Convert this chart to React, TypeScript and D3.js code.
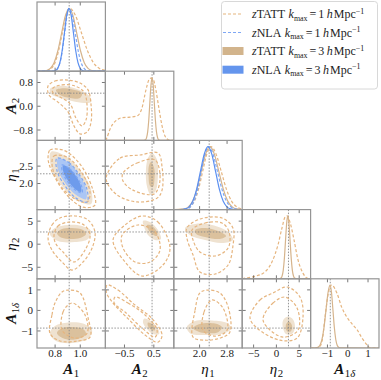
import React from 'react';
import * as d3 from 'd3';

type P = [number, number];

const WIDTH = 381;
const HEIGHT = 380;
const LEFT = 37;
const TOP = 2;
const CELL_W = 68.4;
const CELL_H = 69.2;
const N = 5;

const PARAMS = ['A1', 'A2', 'eta1', 'eta2', 'A1d'];
const RANGES: P[] = [[0.656, 1.2], [-1.15, 1.18], [1.25, 3.24], [-7.5, 7.5], [-1.83, 1.54]];
const TRUTH = [0.912, 0.44, 2.28, 2.65, -0.86];
const X_TICKS = [[0.8, 1.0], [-0.5, 0.5], [2.0, 2.8], [-5, 0, 5], [-1, 0, 1]];
const X_TICK_LABELS = [['0.8', '1.0'], ['−0.5', '0.5'], ['2.0', '2.8'], ['−5', '0', '5'], ['−1', '0', '1']];
const Y_TICKS = [[], [-0.8, 0, 0.8], [2.0, 2.5], [-5, 0, 5], [-1, 0, 1]];
const Y_TICK_LABELS = [[], ['−0.8', '0.0', '0.8'], ['2.0', '2.5'], ['−5', '0', '5'], ['−1', '0', '1']];
const DENSITY_MAX = 1.1;

// 1D marginals (x, normalised density)
const TATT3_1D: P[][] = [
  [[0.656,0],[0.70,0.002],[0.732,0.011],[0.762,0.044],[0.792,0.135],[0.822,0.325],[0.852,0.607],[0.882,0.882],[0.912,1],[0.942,0.882],[0.972,0.607],[1.002,0.325],[1.032,0.135],[1.062,0.044],[1.092,0.011],[1.13,0.001],[1.2,0]],
  [[-1.15,0],[0.10,0.001],[0.215,0.011],[0.2525,0.044],[0.29,0.135],[0.3275,0.325],[0.365,0.607],[0.4025,0.882],[0.44,1],[0.4775,0.882],[0.515,0.607],[0.5525,0.325],[0.59,0.135],[0.6275,0.044],[0.665,0.011],[0.75,0.001],[1.18,0]],
  [[1.25,0],[1.40,0.002],[1.55,0.011],[1.675,0.044],[1.8,0.135],[1.925,0.325],[2.05,0.607],[2.175,0.882],[2.3,1],[2.43,0.882],[2.56,0.607],[2.69,0.325],[2.82,0.135],[2.95,0.044],[3.08,0.011],[3.24,0.001]],
  [[-7.5,0],[0.5,0.001],[1.0,0.011],[1.25,0.044],[1.5,0.135],[1.75,0.325],[2.0,0.607],[2.25,0.882],[2.5,1],[2.75,0.882],[3.0,0.607],[3.25,0.325],[3.5,0.135],[3.75,0.044],[4.0,0.011],[4.5,0.001],[7.5,0]],
  [[-1.83,0],[-1.6,0.001],[-1.47,0.011],[-1.37,0.044],[-1.27,0.135],[-1.17,0.325],[-1.07,0.607],[-0.97,0.882],[-0.87,1],[-0.80,0.882],[-0.73,0.607],[-0.66,0.325],[-0.59,0.135],[-0.52,0.044],[-0.45,0.011],[-0.35,0.001],[1.54,0]],
];
const TATT1_1D: P[][] = [
  [[0.656,0],[0.70,0.002],[0.741,0.011],[0.770,0.044],[0.799,0.135],[0.828,0.325],[0.857,0.607],[0.886,0.882],[0.915,1],[0.9625,0.882],[1.01,0.607],[1.0575,0.325],[1.105,0.135],[1.1525,0.044],[1.2,0.011]],
  [[-1.15,0],[-1.10,0.04],[-1.0,0.17],[-0.9,0.26],[-0.8,0.31],[-0.6,0.36],[-0.31,0.37],[-0.07,0.39],[0.10,0.52],[0.23,0.80],[0.33,0.96],[0.40,0.99],[0.47,0.98],[0.57,0.80],[0.67,0.52],[0.78,0.23],[0.88,0.07],[1.02,0.005],[1.18,0]],
  [[1.25,0],[1.45,0.002],[1.61,0.011],[1.73,0.044],[1.85,0.135],[1.97,0.325],[2.09,0.607],[2.21,0.882],[2.33,1],[2.48,0.882],[2.63,0.607],[2.78,0.325],[2.93,0.135],[3.08,0.044],[3.23,0.011],[3.24,0.01]],
  [[-7.5,0],[-6.89,0.01],[-4.69,0.04],[-2.50,0.11],[-0.96,0.27],[0.35,0.54],[1.23,0.81],[1.89,0.98],[2.32,1.0],[2.98,0.90],[3.86,0.62],[4.74,0.30],[5.83,0.09],[6.71,0.01],[7.5,0]],
  [[-1.83,0],[-1.42,0.01],[-1.27,0.1],[-1.12,0.49],[-0.97,0.85],[-0.80,1.0],[-0.53,0.87],[-0.30,0.65],[-0.04,0.49],[0.22,0.38],[0.46,0.29],[0.70,0.16],[0.95,0.05],[1.1,0.0],[1.54,0]],
];
const NLA3_1D: (P[] | null)[] = [
  [[0.656,0],[0.78,0.001],[0.802,0.011],[0.82,0.044],[0.838,0.135],[0.856,0.325],[0.874,0.607],[0.892,0.882],[0.91,1],[0.928,0.882],[0.946,0.607],[0.964,0.325],[0.982,0.135],[1.0,0.044],[1.018,0.011],[1.04,0.001],[1.2,0]],
  null,
  [[1.25,0],[1.45,0.001],[1.585,0.011],[1.695,0.044],[1.805,0.135],[1.915,0.325],[2.025,0.607],[2.135,0.882],[2.245,1],[2.355,0.882],[2.465,0.607],[2.575,0.325],[2.685,0.135],[2.795,0.044],[2.905,0.011],[3.05,0.001],[3.24,0]],
  null,
  null,
];
const NLA1_1D: (P[] | null)[] = [
  [[0.656,0],[0.78,0.001],[0.802,0.011],[0.8205,0.044],[0.839,0.135],[0.8575,0.325],[0.876,0.607],[0.8945,0.882],[0.913,1],[0.9365,0.882],[0.96,0.607],[0.9835,0.325],[1.007,0.135],[1.0305,0.044],[1.054,0.011],[1.08,0.001],[1.2,0]],
  null,
  [[1.25,0],[1.48,0.001],[1.63,0.011],[1.735,0.044],[1.84,0.135],[1.945,0.325],[2.05,0.607],[2.155,0.882],[2.26,1],[2.39,0.882],[2.52,0.607],[2.65,0.325],[2.78,0.135],[2.91,0.044],[3.04,0.011],[3.2,0.001],[3.24,0]],
  null,
  null,
];

// 2D contours, keyed "col-row", vertices in data units
const TATT3_OUTER: Record<string, P[]> = {
  '0-1': [[0.759,0.58],[0.823,0.68],[0.919,0.65],[1.014,0.51],[1.078,0.31],[1.086,0.14],[1.030,0.11],[0.934,0.18],[0.839,0.28],[0.767,0.41]],
  '0-2': [[0.767,2.91],[0.891,2.77],[1.002,2.37],[1.082,1.88],[1.086,1.41],[0.961,1.54],[0.851,1.95],[0.771,2.44]],
  '0-3': [[0.759,2.21],[0.799,3.51],[0.903,4.16],[1.014,3.94],[1.086,2.86],[1.062,1.13],[0.958,0.47],[0.823,0.69]],
  '0-4': [[0.759,-1.11],[0.799,-0.76],[0.903,-0.59],[1.022,-0.64],[1.094,-0.96],[1.062,-1.35],[0.934,-1.59],[0.807,-1.49]],
  '1-2': [[0.44,2.88],[0.61,2.68],[0.64,2.25],[0.57,1.81],[0.40,1.67],[0.27,1.90],[0.23,2.39],[0.30,2.73]],
  '1-3': [[0.13,5.03],[0.37,4.81],[0.64,3.08],[0.74,1.13],[0.54,0.91],[0.30,1.99],[0.17,3.73]],
  '1-4': [[0.17,-0.40],[0.37,-0.49],[0.61,-0.81],[0.68,-1.15],[0.47,-1.15],[0.24,-0.86],[0.13,-0.59]],
  '2-3': [[1.58,3.51],[1.87,4.38],[2.36,4.16],[2.83,2.64],[2.97,0.91],[2.65,0.25],[2.16,0.91],[1.72,1.99]],
  '2-4': [[1.63,-0.81],[1.87,-0.52],[2.36,-0.49],[2.83,-0.64],[2.91,-0.91],[2.65,-1.15],[2.16,-1.20],[1.72,-1.11]],
  '3-4': [[1.45,-0.49],[2.54,-0.30],[3.64,-0.44],[4.08,-0.81],[3.42,-1.15],[2.10,-1.15],[1.45,-0.86]],
};
const TATT3_INNER: Record<string, P[]> = {
  '0-1': [[0.807,0.55],[0.879,0.61],[0.958,0.55],[1.014,0.45],[0.998,0.28],[0.919,0.28],[0.839,0.38]],
  '0-2': [[0.823,2.68],[0.902,2.58],[0.973,2.29],[1.026,1.95],[1.030,1.64],[0.951,1.74],[0.880,2.03],[0.827,2.36]],
  '0-3': [[0.815,2.42],[0.855,3.29],[0.934,3.51],[1.022,3.08],[1.046,2.21],[0.998,1.34],[0.903,1.13],[0.839,1.56]],
  '0-4': [[0.815,-1.11],[0.855,-0.86],[0.934,-0.81],[1.022,-0.91],[1.046,-1.15],[0.982,-1.39],[0.879,-1.39]],
  '1-2': [[0.40,2.62],[0.51,2.45],[0.52,2.10],[0.47,1.90],[0.37,1.93],[0.32,2.22],[0.33,2.50]],
  '1-3': [[0.27,4.16],[0.44,3.94],[0.61,2.64],[0.61,1.78],[0.44,2.21],[0.30,3.29]],
  '1-4': [[0.30,-0.59],[0.47,-0.69],[0.54,-0.96],[0.44,-0.96],[0.30,-0.76]],
  '2-3': [[1.87,3.08],[2.16,3.51],[2.54,2.86],[2.77,1.78],[2.59,1.13],[2.16,1.56],[1.90,2.21]],
  '2-4': [[1.81,-0.86],[2.01,-0.66],[2.45,-0.64],[2.65,-0.81],[2.54,-1.06],[2.01,-1.06]],
  '3-4': [[2.10,-0.69],[2.76,-0.54],[3.42,-0.74],[3.20,-1.01],[2.32,-1.01]],
};
const TATT1_OUTER: Record<string, P[]> = {
  '0-1': [[0.744,0.68],[0.799,0.85],[0.903,0.88],[0.998,0.78],[1.062,0.55],[1.086,0.04],[1.086,-0.53],[1.054,-0.87],[0.998,-0.93],[0.950,-0.66],[0.903,-0.19],[0.823,0.14],[0.751,0.38]],
  '0-2': [[0.744,2.76],[0.759,2.96],[0.823,2.99],[0.895,2.91],[1.014,2.48],[1.101,1.81],[1.117,1.38],[1.022,1.32],[0.879,1.73],[0.759,2.48]],
  '0-3': [[0.744,1.34],[0.775,4.16],[0.839,5.68],[0.958,6.11],[1.062,5.25],[1.117,2.64],[1.094,-0.83],[1.022,-3.86],[0.934,-5.60],[0.855,-3.86],[0.775,-1.26]],
  '0-4': [[0.759,-1.11],[0.775,-0.22],[0.799,0.36],[0.855,0.90],[0.903,0.99],[0.998,0.85],[1.062,-0.35],[1.078,-1.30],[0.974,-1.49],[0.839,-1.49]],
  '1-2': [[-1.10,2.25],[-0.65,2.73],[0.03,2.82],[0.64,2.88],[0.78,2.48],[0.78,1.81],[0.61,1.58],[-0.07,1.47],[-0.75,1.67],[-1.10,2.04]],
  '1-3': [[0.10,6.11],[0.64,4.81],[1.05,-0.83],[0.81,-4.51],[0.10,-6.90],[-0.48,-3.86],[-0.89,0.91],[-0.48,4.16]],
  '1-4': [[-1.09,1.24],[-0.72,0.99],[-0.14,0.26],[0.44,-0.40],[0.78,-1.20],[0.64,-1.55],[0.20,-1.20],[-0.38,-0.40],[-0.92,0.41],[-1.12,0.90]],
  '2-3': [[1.63,3.51],[2.01,5.46],[2.65,5.68],[2.97,3.51],[2.97,-0.39],[2.83,-4.51],[2.45,-6.46],[2.01,-6.03],[1.81,-2.35],[1.63,1.34]],
  '2-4': [[1.81,-1.30],[1.87,0.02],[2.01,0.85],[2.22,0.99],[2.59,0.85],[2.83,0.17],[2.88,-1.06],[2.59,-1.35],[2.16,-1.45]],
  '3-4': [[-5.79,-0.35],[-3.60,0.51],[-0.75,0.85],[2.32,1.14],[5.18,0.65],[5.83,-0.35],[4.52,-1.35],[0.79,-1.45],[-4.25,-0.86]],
};
const TATT1_INNER: Record<string, P[]> = {
  '0-1': [[0.783,0.61],[0.855,0.72],[0.958,0.68],[1.030,0.48],[1.054,0.04],[1.046,-0.46],[1.014,-0.66],[0.966,-0.40],[0.919,0.08],[0.839,0.31],[0.783,0.45]],
  '0-2': [[0.775,2.59],[0.791,2.79],[0.895,2.76],[1.014,2.30],[1.078,1.73],[1.054,1.47],[0.934,1.61],[0.815,2.10]],
  '0-3': [[0.791,1.78],[0.823,3.94],[0.919,4.81],[1.030,4.16],[1.078,1.99],[1.038,-1.26],[0.950,-3.86],[0.863,-1.69],[0.807,0.04]],
  '0-4': [[0.855,-0.96],[0.863,-0.08],[0.903,0.26],[0.942,0.36],[1.038,-0.22],[1.054,-1.11],[0.958,-1.35]],
  '1-2': [[-0.55,2.30],[-0.07,2.59],[0.54,2.68],[0.71,2.10],[0.51,1.70],[-0.21,1.81],[-0.55,2.07]],
  '1-3': [[-0.04,4.16],[0.54,2.64],[0.71,-1.26],[0.37,-3.86],[-0.14,-3.86],[-0.55,-0.83],[-0.58,1.99]],
  '1-4': [[-0.82,0.65],[-0.38,0.36],[0.20,-0.22],[0.61,-0.96],[0.54,-1.30],[0.10,-0.86],[-0.48,-0.08],[-0.85,0.36]],
  '2-3': [[1.78,3.08],[2.16,4.60],[2.65,4.60],[2.86,2.64],[2.83,-0.83],[2.45,-2.56],[2.01,-1.69],[1.81,0.91]],
  '2-4': [[2.10,-0.96],[2.13,-0.08],[2.36,0.51],[2.68,0.12],[2.80,-0.96],[2.45,-1.25]],
  '3-4': [[-2.94,-0.40],[-0.75,0.36],[1.89,0.65],[4.52,0.12],[4.74,-0.96],[1.45,-1.30],[-2.06,-0.81]],
};
const NLA3_OUTER: Record<string, P[]> = {
  '0-2': [[0.823,2.73],[0.910,2.60],[0.987,2.27],[1.043,1.89],[1.046,1.55],[0.959,1.69],[0.882,2.01],[0.825,2.39]],
};
const NLA3_INNER: Record<string, P[]> = {
  '0-2': [[0.863,2.52],[0.915,2.43],[0.964,2.22],[1.001,1.97],[1.006,1.76],[0.954,1.86],[0.905,2.07],[0.868,2.31]],
};
const NLA1_OUTER: Record<string, P[]> = {
  '0-2': [[0.815,2.73],[0.910,2.60],[0.993,2.25],[1.053,1.84],[1.054,1.47],[0.959,1.60],[0.876,1.95],[0.816,2.36]],
};
const NLA1_INNER: Record<string, P[]> = {
  '0-2': [[0.855,2.53],[0.913,2.43],[0.967,2.21],[1.008,1.95],[1.014,1.73],[0.956,1.83],[0.902,2.05],[0.860,2.31]],
};

const LEGEND_MODELS = ['TATT', 'NLA', 'TATT', 'NLA'];
const LEGEND_KMAX = ['1', '1', '3', '3'];
const LEGEND_STYLE = ['tanDash', 'blueDash', 'tanFill', 'blueFill'];

const C_TAN_LINE = '#d6b48c';
const C_TAN_DASH = '#e6b57f';
const C_TAN_OUTER = '#efe2d0';
const C_TAN_INNER = '#dbc19d';
const C_TAN_PATCH = '#d2b48c';
const C_BLUE_LINE = '#5b8ff0';
const C_BLUE_DASH = '#7ea7f4';
const C_BLUE_OUTER = '#abc6f5';
const C_BLUE_INNER = '#6e9bec';
const C_BLUE_PATCH = '#6495ed';
const C_FRAME = '#959595';
const C_TICK = '#555';
const C_TRUTH = '#8a8a8a';
const SERIF = "'Liberation Serif', 'DejaVu Serif', serif";

function ParamLabel({ name }: { name: string }) {
  const isEta = name.startsWith('eta');
  const main = isEta ? 'η' : 'A';
  const sub = name === 'A1d' ? '1' : name.slice(-1);
  return (
    <>
      <tspan fontStyle="italic" fontWeight={isEta ? 'normal' : 'bold'}>{main}</tspan>
      <tspan fontSize="0.72em" dy="0.28em" dx="0.5">{sub}</tspan>
      {name === 'A1d' ? <tspan fontSize="0.72em" fontStyle="italic">δ</tspan> : null}
    </>
  );
}

function Panel({ col, row }: { col: number; row: number }) {
  const x0 = LEFT + col * CELL_W;
  const y0 = TOP + row * CELL_H;
  const diag = col === row;
  const xs = d3.scaleLinear().domain(RANGES[col]).range([x0, x0 + CELL_W]);
  const ys = diag
    ? d3.scaleLinear().domain([0, DENSITY_MAX]).range([y0 + CELL_H, y0])
    : d3.scaleLinear().domain(RANGES[row]).range([y0 + CELL_H, y0]);
  const key = `${col}-${row}`;
  const clipId = `clip-${key}`;
  const closed = d3.line<P>().x(d => xs(d[0])).y(d => ys(d[1])).curve(d3.curveCatmullRomClosed.alpha(0.5));
  const open = d3.line<P>().x(d => xs(d[0])).y(d => ys(d[1])).curve(d3.curveMonotoneX);
  const tl = 3.5;
  const ticks: JSX.Element[] = [];
  X_TICKS[col].forEach((t, k) => {
    const x = xs(t);
    ticks.push(<line key={`xb${k}`} x1={x} x2={x} y1={y0 + CELL_H} y2={y0 + CELL_H - tl} stroke={C_TICK} strokeWidth={0.8} />);
    ticks.push(<line key={`xt${k}`} x1={x} x2={x} y1={y0} y2={y0 + tl} stroke={C_TICK} strokeWidth={0.8} />);
  });
  if (!diag) {
    Y_TICKS[row].forEach((t, k) => {
      const y = ys(t);
      ticks.push(<line key={`yl${k}`} x1={x0} x2={x0 + tl} y1={y} y2={y} stroke={C_TICK} strokeWidth={0.8} />);
      ticks.push(<line key={`yr${k}`} x1={x0 + CELL_W} x2={x0 + CELL_W - tl} y1={y} y2={y} stroke={C_TICK} strokeWidth={0.8} />);
    });
  }
  const dashTan = { fill: 'none', stroke: C_TAN_DASH, strokeWidth: 1.2, strokeDasharray: '3,2' };
  const dashBlue = { fill: 'none', stroke: C_BLUE_DASH, strokeWidth: 1.2, strokeDasharray: '3,2' };
  return (
    <g>
      <defs>
        <clipPath id={clipId}>
          <rect x={x0} y={y0} width={CELL_W} height={CELL_H} />
        </clipPath>
      </defs>
      <g clipPath={`url(#${clipId})`}>
        {diag ? (
          <>
            <line x1={xs(TRUTH[col])} x2={xs(TRUTH[col])} y1={y0} y2={y0 + CELL_H} stroke={C_TRUTH} strokeWidth={0.9} strokeDasharray="1.5,1.5" />
            <path d={open(TATT1_1D[col]) || ''} {...dashTan} />
            <path d={open(TATT3_1D[col]) || ''} fill="none" stroke={C_TAN_LINE} strokeWidth={1.2} />
            {NLA1_1D[col] ? <path d={open(NLA1_1D[col] as P[]) || ''} {...dashBlue} /> : null}
            {NLA3_1D[col] ? <path d={open(NLA3_1D[col] as P[]) || ''} fill="none" stroke={C_BLUE_LINE} strokeWidth={1.2} /> : null}
          </>
        ) : (
          <>
            <path d={closed(TATT3_OUTER[key]) || ''} fill={C_TAN_OUTER} />
            <path d={closed(TATT3_INNER[key]) || ''} fill={C_TAN_INNER} />
            {NLA3_OUTER[key] ? <path d={closed(NLA3_OUTER[key]) || ''} fill={C_BLUE_OUTER} /> : null}
            {NLA3_INNER[key] ? <path d={closed(NLA3_INNER[key]) || ''} fill={C_BLUE_INNER} /> : null}
            <line x1={xs(TRUTH[col])} x2={xs(TRUTH[col])} y1={y0} y2={y0 + CELL_H} stroke={C_TRUTH} strokeWidth={0.9} strokeDasharray="1.5,1.5" />
            <line x1={x0} x2={x0 + CELL_W} y1={ys(TRUTH[row])} y2={ys(TRUTH[row])} stroke={C_TRUTH} strokeWidth={0.9} strokeDasharray="1.5,1.5" />
            <path d={closed(TATT1_OUTER[key]) || ''} {...dashTan} />
            <path d={closed(TATT1_INNER[key]) || ''} {...dashTan} />
            {NLA1_OUTER[key] ? <path d={closed(NLA1_OUTER[key]) || ''} {...dashBlue} /> : null}
            {NLA1_INNER[key] ? <path d={closed(NLA1_INNER[key]) || ''} {...dashBlue} /> : null}
          </>
        )}
      </g>
      {ticks}
      <rect x={x0} y={y0} width={CELL_W} height={CELL_H} fill="none" stroke={C_FRAME} strokeWidth={1.2} />
      {row === N - 1
        ? X_TICKS[col].map((t, k) => (
            <text key={`xl${k}`} x={xs(t)} y={357} textAnchor="middle" fontSize={11} fontFamily={SERIF} fill="#222">
              {X_TICK_LABELS[col][k]}
            </text>
          ))
        : null}
      {col === 0 && !diag
        ? Y_TICKS[row].map((t, k) => (
            <text key={`yl${k}`} x={x0 - 4} y={ys(t)} dy="0.35em" textAnchor="end" fontSize={11} fontFamily={SERIF} fill="#222">
              {Y_TICK_LABELS[row][k]}
            </text>
          ))
        : null}
    </g>
  );
}

function Legend() {
  const lx = 221.5, ly = 1.5, lw = 156, lh = 87.5;
  const rows = [14, 32.5, 51, 69.7];
  return (
    <g>
      <rect x={lx} y={ly} width={lw} height={lh} rx={3} fill="white" fillOpacity={0.9} stroke="#d4d4d4" strokeWidth={0.9} />
      {LEGEND_MODELS.map((m, i) => {
        const y = rows[i];
        const st = LEGEND_STYLE[i];
        let handle: JSX.Element;
        if (st === 'tanDash') handle = <line x1={223} x2={243} y1={y} y2={y} stroke={C_TAN_DASH} strokeWidth={1.2} strokeDasharray="3,2" />;
        else if (st === 'blueDash') handle = <line x1={223} x2={243} y1={y} y2={y} stroke={C_BLUE_DASH} strokeWidth={1.2} strokeDasharray="3,2" />;
        else if (st === 'tanFill') handle = <rect x={222.5} y={y - 4} width={21} height={8} fill={C_TAN_PATCH} />;
        else handle = <rect x={222.5} y={y - 4} width={21} height={8} fill={C_BLUE_PATCH} />;
        return (
          <g key={i}>
            {handle}
            <text x={252} y={y + 4} fontSize={12} fontFamily={SERIF} fill="#222">
              <tspan fontStyle="italic">z</tspan>
              <tspan>{m}</tspan>
              <tspan fontStyle="italic" dx="3.5">k</tspan>
              <tspan fontSize="0.66em" dy="2.5">max</tspan>
              <tspan dy="-2.5" dx="2">=</tspan>
              <tspan dx="2">{LEGEND_KMAX[i]}</tspan>
              <tspan fontStyle="italic" dx="2.5">h</tspan>
              <tspan dx="1">Mpc</tspan>
              <tspan fontSize="0.66em" dy="-4.5">−1</tspan>
            </text>
          </g>
        );
      })}
    </g>
  );
}

export default function App() {
  const panels: JSX.Element[] = [];
  for (let r = 0; r < N; r++) {
    for (let c = 0; c <= r; c++) panels.push(<Panel key={`${c}-${r}`} col={c} row={r} />);
  }
  return (
    <svg width={WIDTH} height={HEIGHT} style={{ position: 'absolute', left: 0, top: 0, background: 'white' }}>
      {panels}
      {PARAMS.map((p, i) => (
        <text key={`xlab${i}`} x={LEFT + (i + 0.5) * CELL_W} y={374} textAnchor="middle" fontSize={15} fontFamily={SERIF} fill="#111">
          <ParamLabel name={p} />
        </text>
      ))}
      {PARAMS.slice(1).map((p, i) => {
        const cy = TOP + (i + 1.5) * CELL_H;
        return (
          <text key={`ylab${i}`} transform={`translate(16,${cy}) rotate(-90)`} textAnchor="middle" fontSize={15} fontFamily={SERIF} fill="#111">
            <ParamLabel name={p} />
          </text>
        );
      })}
      <Legend />
    </svg>
  );
}
